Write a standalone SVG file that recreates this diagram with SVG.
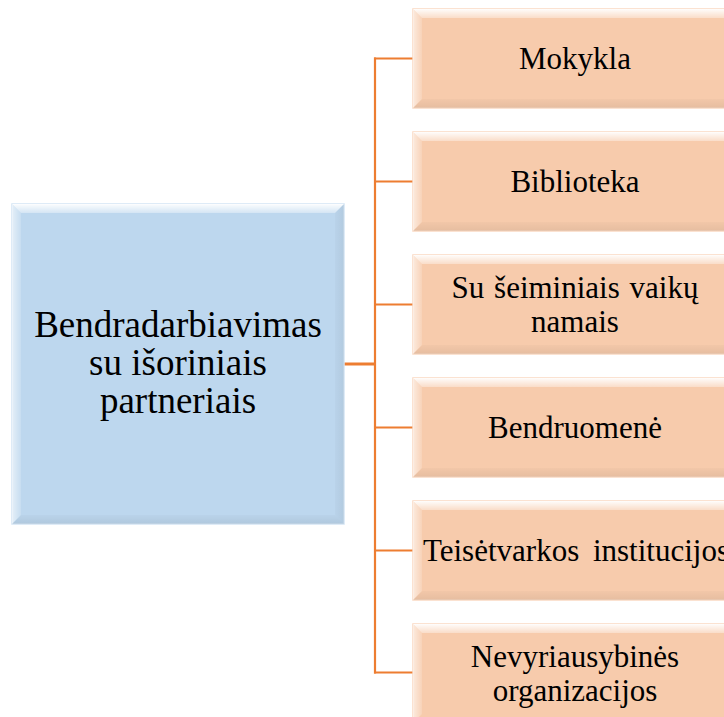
<svg xmlns="http://www.w3.org/2000/svg" width="724" height="717" viewBox="0 0 724 717">
  <defs>
    <linearGradient id="topB" x1="0" y1="0" x2="0" y2="1">
      <stop offset="0" stop-color="#ffffff" stop-opacity="0.95"/>
      <stop offset="1" stop-color="#ffffff" stop-opacity="0.35"/>
    </linearGradient>
    <linearGradient id="leftB" x1="0" y1="0" x2="1" y2="0">
      <stop offset="0" stop-color="#ffffff" stop-opacity="0.6"/>
      <stop offset="1" stop-color="#ffffff" stop-opacity="0.15"/>
    </linearGradient>
    <linearGradient id="rightB" x1="0" y1="0" x2="1" y2="0">
      <stop offset="0" stop-color="#000000" stop-opacity="0.02"/>
      <stop offset="1" stop-color="#000000" stop-opacity="0.06"/>
    </linearGradient>
    <linearGradient id="botB" x1="0" y1="0" x2="0" y2="1">
      <stop offset="0" stop-color="#000000" stop-opacity="0.02"/>
      <stop offset="1" stop-color="#000000" stop-opacity="0.07"/>
    </linearGradient>
  </defs>
  <style>
    .blue { fill: #BDD7EE; stroke: #D3E5F5; stroke-width: 1.5; }
    .peach { fill: #F7CBAC; stroke: #FAD9C2; stroke-width: 1.5; }
    .bt { fill: url(#topB); }
    .bl { fill: url(#leftB); }
    .br { fill: url(#rightB); }
    .bb { fill: url(#botB); }
    .lbl { font-family: "Liberation Serif", "Times New Roman", serif; fill: #000; text-anchor: middle; }
    .big { font-size: 37px; }
    .small { font-size: 31px; }
    .conn { stroke: #ED7D31; fill: none; }
  </style>

  <g id="connectors">
    <line class="conn" x1="344" y1="364" x2="376" y2="364" stroke-width="3"/>
    <line class="conn" x1="375" y1="57.5" x2="375" y2="673.5" stroke-width="2.2"/>
    <line class="conn" x1="374" y1="58.5" x2="413" y2="58.5" stroke-width="2"/>
    <line class="conn" x1="374" y1="181.5" x2="413" y2="181.5" stroke-width="2"/>
    <line class="conn" x1="374" y1="304.5" x2="413" y2="304.5" stroke-width="2"/>
    <line class="conn" x1="374" y1="427.5" x2="413" y2="427.5" stroke-width="2"/>
    <line class="conn" x1="374" y1="550.5" x2="413" y2="550.5" stroke-width="2"/>
    <line class="conn" x1="374" y1="672.5" x2="413" y2="672.5" stroke-width="2"/>
  </g>

  <g id="center">
    <rect class="blue" x="12" y="204" width="332" height="320"/>
    <polygon class="bt" points="12,204 344,204 335,213 21,213"/>
    <polygon class="bl" points="12,204 21,213 21,515 12,524"/>
    <polygon class="br" points="344,204 344,524 335,515 335,213"/>
    <polygon class="bb" points="12,524 21,515 335,515 344,524"/>
    <text class="lbl big" x="178" y="337">Bendradarbiavimas</text>
    <text class="lbl big" x="178" y="375">su išoriniais</text>
    <text class="lbl big" x="178" y="413">partneriais</text>
  </g>

  <g id="n1">
    <rect class="peach" x="413" y="9" width="324" height="99"/>
    <polygon class="bt" points="413,9 737,9 728,18 422,18"/>
    <polygon class="bl" points="413,9 422,18 422,99 413,108"/>
    <polygon class="bb" points="413,108 422,99 728,99 737,108"/>
    <text class="lbl small" x="575" y="69">Mokykla</text>
  </g>
  <g id="n2">
    <rect class="peach" x="413" y="132" width="324" height="99"/>
    <polygon class="bt" points="413,132 737,132 728,141 422,141"/>
    <polygon class="bl" points="413,132 422,141 422,222 413,231"/>
    <polygon class="bb" points="413,231 422,222 728,222 737,231"/>
    <text class="lbl small" x="575" y="192">Biblioteka</text>
  </g>
  <g id="n3">
    <rect class="peach" x="413" y="255" width="324" height="99"/>
    <polygon class="bt" points="413,255 737,255 728,264 422,264"/>
    <polygon class="bl" points="413,255 422,264 422,345 413,354"/>
    <polygon class="bb" points="413,354 422,345 728,345 737,354"/>
    <text class="lbl small" x="575" y="298" word-spacing="2">Su šeiminiais vaikų</text>
    <text class="lbl small" x="575" y="332">namais</text>
  </g>
  <g id="n4">
    <rect class="peach" x="413" y="378" width="324" height="99"/>
    <polygon class="bt" points="413,378 737,378 728,387 422,387"/>
    <polygon class="bl" points="413,378 422,387 422,468 413,477"/>
    <polygon class="bb" points="413,477 422,468 728,468 737,477"/>
    <text class="lbl small" x="575" y="438">Bendruomenė</text>
  </g>
  <g id="n5">
    <rect class="peach" x="413" y="501" width="324" height="99"/>
    <polygon class="bt" points="413,501 737,501 728,510 422,510"/>
    <polygon class="bl" points="413,501 422,510 422,591 413,600"/>
    <polygon class="bb" points="413,600 422,591 728,591 737,600"/>
    <text class="lbl small" x="576" y="561" word-spacing="6">Teisėtvarkos institucijos</text>
  </g>
  <g id="n6">
    <rect class="peach" x="413" y="624" width="324" height="99"/>
    <polygon class="bt" points="413,624 737,624 728,633 422,633"/>
    <polygon class="bl" points="413,624 422,633 422,714 413,723"/>
    <text class="lbl small" x="575" y="667">Nevyriausybinės</text>
    <text class="lbl small" x="575" y="701">organizacijos</text>
  </g>
</svg>
